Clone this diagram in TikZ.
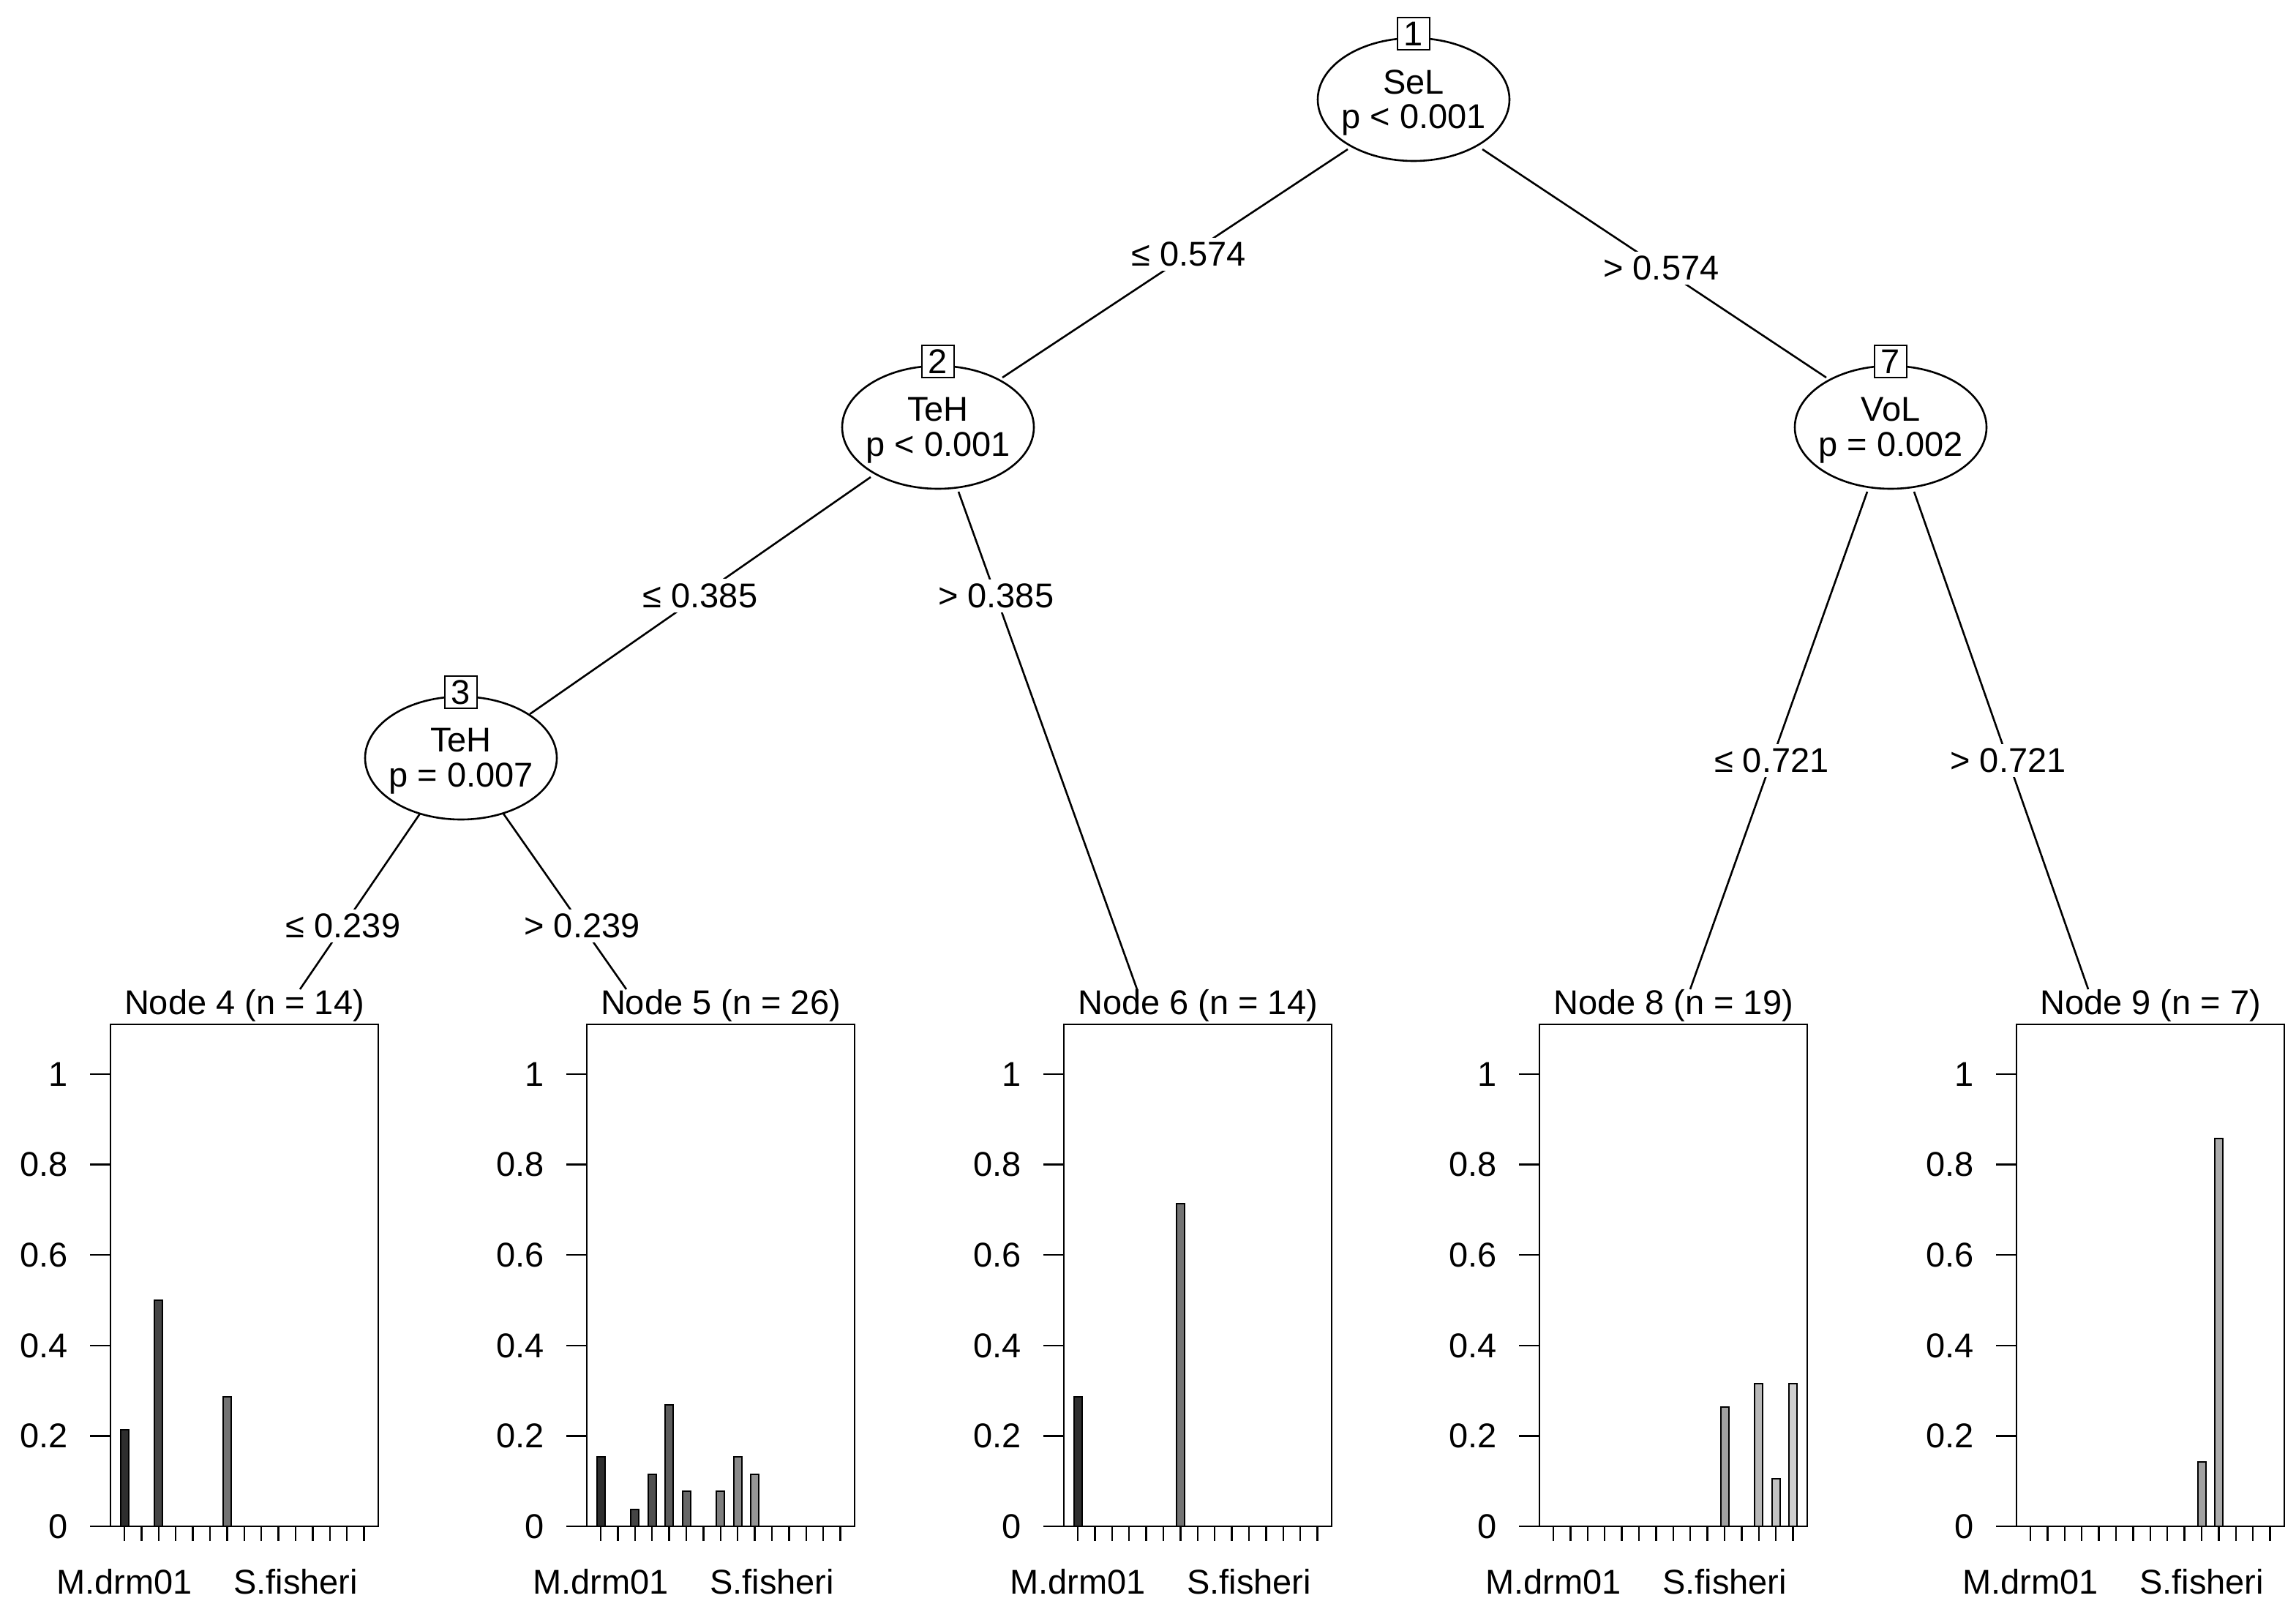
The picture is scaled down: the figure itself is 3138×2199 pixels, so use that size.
\documentclass[tikz,border=0pt]{standalone}
\usepackage{fontspec}
\setmainfont{Liberation Sans}
\usetikzlibrary{shapes.geometric}
\begin{document}
\begin{tikzpicture}[x=1pt,y=-1pt,line width=2.6pt,
  txt/.style={font=\fontsize{47}{52}\selectfont,inner sep=2pt},
  lab/.style={txt,fill=white,inner sep=6pt},
  ell/.style={draw,ellipse,minimum width=262,minimum height=168,inner sep=0pt},
  nbox/.style={draw,fill=white,minimum width=44,minimum height=44,inner sep=0pt}]
\path[use as bounding box] (0,0) rectangle (3138,2199);
% inner tree nodes
\newcommand\inner[6]{%
  \node[ell] (#1) at (#2,#3) {};
  \node[txt] (#1t) at (#2,#3-24) {#4};
  \node[txt] (#1p) at (#2,#3+28) {#5};
  \node[nbox] (#1b) at (#2,#3-90) {};
  \node[txt] (#1n) at (#1b) {#6};}
\inner{n1}{1932}{136}{SeL}{p < 0.001}{1}
\inner{n2}{1282}{584}{TeH}{p < 0.001}{2}
\inner{n7}{2584}{584}{VoL}{p = 0.002}{7}
\inner{n3}{630}{1036}{TeH}{p = 0.007}{3}
% edge endpoints
\coordinate (a1) at (1842,204); \coordinate (b2) at (1370,516);
\coordinate (a1r) at (2026,204); \coordinate (b7) at (2496,516);
\coordinate (a2) at (1190,652); \coordinate (b3) at (724,976);
\coordinate (a2r) at (1310,672); \coordinate (e6) at (1554,1352);
\coordinate (a3) at (574,1112); \coordinate (e4) at (410,1352);
\coordinate (a3r) at (688,1112); \coordinate (e5) at (856,1352);
\coordinate (a7) at (2552,672); \coordinate (e8) at (2310,1352);
\coordinate (a7r) at (2616,672); \coordinate (e9) at (2854,1352);
\draw (a1) -- (b2) node[lab,pos=0.46] (l1) {≤ 0.574};
\draw (a1r) -- (b7) node[lab,pos=0.52] (l2) {> 0.574};
\draw (a1) (a2) -- (b3) node[lab,pos=0.5] (l3) {≤ 0.385};
\draw (a2r) -- (e6) node[lab,pos=0.21] (l4) {> 0.385};
\draw (a3) -- (e4) node[lab,pos=0.64] (l5) {≤ 0.239};
\draw (a3r) -- (e5) node[lab,pos=0.64] (l6) {> 0.239};
\draw (a7) -- (e8) node[lab,pos=0.54] (l7) {≤ 0.721};
\draw (a7r) -- (e9) node[lab,pos=0.54] (l8) {> 0.721};
% panels
\newcommand\panel[3]{%
  \begin{scope}[xshift=#1]
  \node[txt,anchor=south,inner sep=0pt] (t#1) at (183,1398) {#2};
  \draw[line width=2.4pt] (0,1400) rectangle (366,2086);
  \foreach \v/\l in {0/0,0.2/0.2,0.4/0.4,0.6/0.6,0.8/0.8,1/1}{
    \draw[line width=2.4pt] (-28,2086-618*\v) -- (0,2086-618*\v);
    \node[txt,anchor=east] at (-55,2086-618*\v) {\l};}
  \foreach \i in {0,...,14}{\draw[line width=2.4pt] (19+23.4*\i,2086) -- (19+23.4*\i,2106);}
  \node[txt] at (19,2162) {M.drm01};
  \node[txt] at (253,2162) {S.fisheri};
  \foreach \i/\h in {#3}{
    \pgfmathsetmacro\g{82-4.5*\i}
    \draw[line width=2pt,fill=black!\g!white] (13.5+23.4*\i,2086) rectangle (24.5+23.4*\i,2086-618*\h);}
  \end{scope}}
\panel{151}{Node 4 (n = 14)}{0/0.214,2/0.5,6/0.286}
\panel{802}{Node 5 (n = 26)}{0/0.154,2/0.038,3/0.115,4/0.269,5/0.077,7/0.077,8/0.154,9/0.115}
\panel{1454}{Node 6 (n = 14)}{0/0.286,6/0.714}
\panel{2104}{Node 8 (n = 19)}{10/0.263,12/0.316,13/0.105,14/0.316}
\panel{2756}{Node 9 (n = 7)}{10/0.143,11/0.857}
\end{tikzpicture}
\end{document}
